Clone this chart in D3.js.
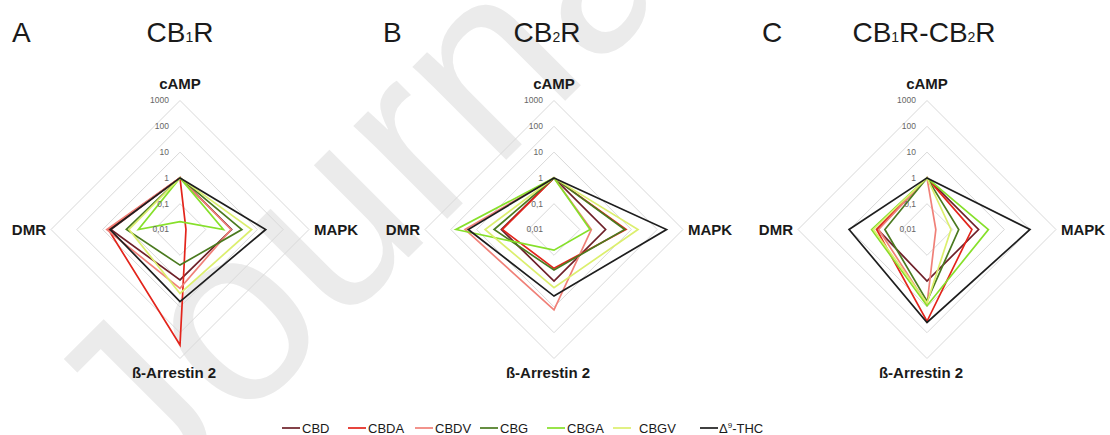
<!DOCTYPE html>
<html>
<head>
<meta charset="utf-8">
<script src="https://cdn.jsdelivr.net/npm/d3@7"></script>
<style>
  html, body { margin: 0; padding: 0; background: #fff; }
  svg { display: block; font-family: "Liberation Sans", Arial, sans-serif; }
</style>
</head>
<body>
<svg id="chart" width="1110" height="435"></svg>
<script>
// Signalling pathways, clockwise from the top
const axes = ["cAMP", "MAPK", "ß-Arrestin 2", "DMR"];
const compounds = ["CBD", "CBDA", "CBDV", "CBG", "CBGA", "CBGV", "Δ9-THC"];
const colors = ["#6e2029", "#e3241b", "#f08078", "#4a7a1f", "#86e02a", "#dcef6e", "#1e1e1e"];
const tickValues = [0.01, 0.1, 1, 10, 100, 1000];
const tickLabels = ["0,01", "0,1", "1", "10", "100", "1000"];
const panelLetters = ["A", "B", "C"];

// Bias factors per compound: [cAMP, MAPK, ß-Arrestin 2, DMR]
const cb1r = [
  [1, 1.0, 0.9, 4.8],
  [1, 0.017, 300, 6.0],
  [1, 0.95, 1.9, 6.9],
  [1, 2.5, 0.24, 1.2],
  [1, 0.48, 0.005, 0.41],
  [1, 6.0, 3.0, 0.95],
  [1, 21, 6.2, 5.1]
];
const cb2r = [
  [1, 1.0, 1.0, 1.1],
  [1, 6.2, 0.32, 1.0],
  [1, 0.28, 13, 28],
  [1, 5.5, 0.37, 2.1],
  [1, 0.25, 0.063, 63],
  [1, 18, 1.8, 4.7],
  [1, 230, 3.8, 21]
];
const cb1rcb2r = [
  [1, 1.0, 1.0, 0.8],
  [1, 0.55, 36, 0.9],
  [1, 0.022, 8, 0.75],
  [1, 0.17, 6, 0.43],
  [1, 2.4, 9, 1.4],
  [1, 0.085, 7, 1.2],
  [1, 98, 40, 10.5]
];

const panels = [
  { letter: panelLetters[0], title: [["CB", 0], ["1", 1], ["R", 0]], data: cb1r },
  { letter: panelLetters[1], title: [["CB", 0], ["2", 1], ["R", 0]], data: cb2r },
  { letter: panelLetters[2], title: [["CB", 0], ["1", 1], ["R-CB", 0], ["2", 1], ["R", 0]], data: cb1rcb2r }
];

// layout
const centers = [180, 554, 927];
const letterX = [12, 383, 762];
const titleX = [180, 547, 924];
const cy = 229.5;
const R = 129;

const svg = d3.select("#chart");

// page watermark behind the figure
svg.append("text")
  .attr("transform", "translate(150,516) rotate(-45)")
  .attr("font-size", 250)
  .attr("fill", "#ebebeb")
  .text("Journal Pre-proof");

const rScale = d3.scaleLog().domain([0.01, 1000]).range([0, R]);
const angle = i => i * Math.PI / 2;

const radial = d3.lineRadial()
  .angle((d, i) => angle(i))
  .radius(d => rScale(d))
  .curve(d3.curveLinearClosed);

panels.forEach((p, pi) => {
  const cx = centers[pi];

  // panel letter and receptor title
  svg.append("text")
    .attr("x", letterX[pi]).attr("y", 42)
    .attr("font-size", 28).attr("fill", "#1a1a1a")
    .text(p.letter);

  const t = svg.append("text")
    .attr("x", titleX[pi]).attr("y", 42)
    .attr("text-anchor", "middle")
    .attr("font-size", 28).attr("fill", "#1a1a1a");
  p.title.forEach(([s, sub]) => {
    t.append("tspan").attr("font-size", sub ? 14 : 28).text(s);
  });

  const g = svg.append("g").attr("transform", `translate(${cx},${cy})`);

  // grid rings
  g.selectAll("path.ring")
    .data(tickValues.slice(1))
    .join("path")
    .attr("class", "ring")
    .attr("d", v => radial(axes.map(() => v)))
    .attr("fill", "none")
    .attr("stroke", "#d9d9d9")
    .attr("stroke-width", 1);

  // series
  g.selectAll("path.series")
    .data(p.data)
    .join("path")
    .attr("class", "series")
    .attr("d", d => radial(d))
    .attr("fill", "none")
    .attr("stroke", (d, i) => colors[i])
    .attr("stroke-width", 1.7)
    .attr("stroke-linejoin", "miter");

  // tick labels along the cAMP axis
  g.selectAll("text.tick")
    .data(tickValues)
    .join("text")
    .attr("class", "tick")
    .attr("x", -11)
    .attr("y", v => -rScale(v))
    .attr("dy", "0.35em")
    .attr("text-anchor", "end")
    .attr("font-size", 8.5)
    .attr("fill", "#666")
    .text((v, i) => tickLabels[i]);

  // axis labels
  const lab = [
    { x: 0, y: 89 - cy, anchor: "middle" },
    { x: 134, y: 5.5, anchor: "start" },
    { x: -6, y: 378 - cy, anchor: "middle" },
    { x: -134, y: 5.5, anchor: "end" }
  ];
  axes.forEach((a, i) => {
    g.append("text")
      .attr("x", lab[i].x).attr("y", lab[i].y)
      .attr("text-anchor", lab[i].anchor)
      .attr("font-size", 15).attr("font-weight", "bold")
      .attr("fill", "#1a1a1a")
      .text(a);
  });
});

// legend
const legendX = [282, 348, 415, 480, 547, 613, 700];
const legendTextGap = [1, 1, 1, 1, 1, 7, 0];
const lg = svg.append("g");
compounds.forEach((c, i) => {
  lg.append("line")
    .attr("x1", legendX[i]).attr("x2", legendX[i] + 18)
    .attr("y1", 428).attr("y2", 428)
    .attr("stroke", colors[i]).attr("stroke-width", 1.7);
  const t = lg.append("text")
    .attr("x", legendX[i] + 19 + legendTextGap[i]).attr("y", 432.5)
    .attr("font-size", 13).attr("fill", "#1a1a1a");
  if (c.startsWith("Δ9")) {
    t.append("tspan").text("Δ");
    t.append("tspan").attr("font-size", 8).attr("dy", -5).text("9");
    t.append("tspan").attr("dy", 5).text(c.slice(2));
  } else {
    t.text(c);
  }
});
</script>
</body>
</html>
